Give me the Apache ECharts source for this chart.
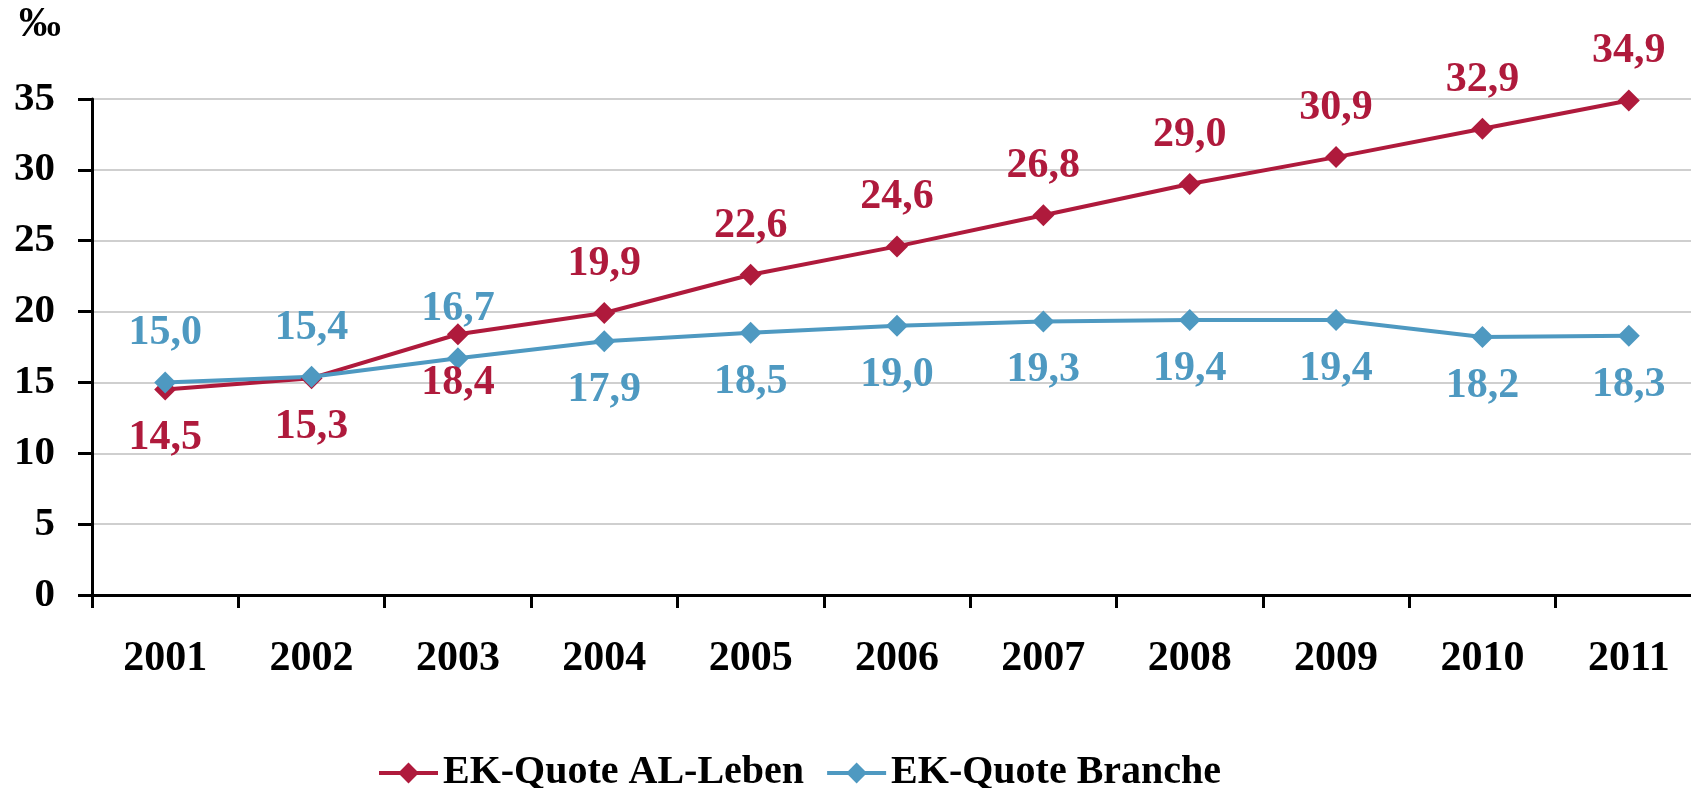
<html>
    <head>
        <meta charset="utf-8">
        <script src="https://cdn.jsdelivr.net/npm/echarts@6/dist/echarts.min.js"></script>
        <style>
            html, body { margin: 0; padding: 0; background: #fff; overflow: hidden; }
            /* the plot runs past the right edge of the picture, so the canvas is a bit wider than the window */
            #main { width: 1702px; height: 788px; }
        </style>
    </head>
    <body>
        <div id="main"></div>
        <script>

        var years = ['2001', '2002', '2003', '2004', '2005', '2006', '2007', '2008', '2009', '2010', '2011'];
        var alLeben = [14.5, 15.3, 18.4, 19.9, 22.6, 24.6, 26.8, 29.0, 30.9, 32.9, 34.9];
        var branche = [15.0, 15.4, 16.7, 17.9, 18.5, 19.0, 19.3, 19.4, 19.4, 18.2, 18.3];
        var yTicks = [0, 5, 10, 15, 20, 25, 30, 35];

        // which side the value label sits on, per year
        var alLebenSide = ['bottom', 'bottom', 'bottom', 'top', 'top', 'top', 'top', 'top', 'top', 'top', 'top'];
        var brancheSide = ['top', 'top', 'top', 'bottom', 'bottom', 'bottom', 'bottom', 'bottom', 'bottom', 'bottom', 'bottom'];

        var FONT = '"Times New Roman", "Liberation Serif", serif';
        var RED = '#AF1A3C';
        var BLUE = '#4E99C1';

        function fmt(v) {
            return v.toFixed(1).replace('.', ',');
        }

        function withLabels(values, sides, color) {
            return values.map(function (v, i) {
                return {
                    value: v,
                    label: {
                        show: true,
                        position: sides[i],
                        distance: 17,
                        color: color,
                        fontFamily: FONT,
                        fontWeight: 'bold',
                        fontSize: 42,
                        lineHeight: 42,
                        formatter: function (p) { return fmt(p.value); }
                    }
                };
            });
        }

        var myChart = echarts.init(document.getElementById('main'));

        myChart.setOption({
            backgroundColor: '#fff',
            animation: false,
            textStyle: {fontFamily: FONT},
            grid: {
                left: 92,
                right: 0,
                top: 99,
                bottom: 193,
                containLabel: false
            },
            legend: {
                left: 372,
                top: 748,
                itemWidth: 59,
                itemHeight: 26,
                itemGap: 21,
                lineStyle: {width: 4},
                textStyle: {
                    color: '#000',
                    fontFamily: FONT,
                    fontWeight: 'bold',
                    fontSize: 40,
                    lineHeight: 40
                },
                data: ['EK-Quote AL-Leben', 'EK-Quote Branche']
            },
            xAxis: {
                type: 'category',
                data: years,
                boundaryGap: true,
                axisLine: {lineStyle: {color: '#000', width: 3}},
                axisTick: {show: true, length: 13, lineStyle: {color: '#000', width: 3}},
                axisLabel: {
                    margin: 43,
                    color: '#000',
                    fontFamily: FONT,
                    fontWeight: 'bold',
                    fontSize: 42
                },
                splitLine: {show: false}
            },
            yAxis: {
                type: 'value',
                min: yTicks[0],
                max: yTicks[yTicks.length - 1],
                interval: 5,
                name: '‰',
                nameLocation: 'end',
                nameGap: 53,
                nameTextStyle: {
                    color: '#000',
                    fontFamily: FONT,
                    fontWeight: 'bold',
                    fontSize: 42,
                    align: 'center',
                    padding: [0, 104, 0, 0]
                },
                axisLine: {show: true, lineStyle: {color: '#000', width: 3}},
                axisTick: {show: true, length: 14, lineStyle: {color: '#000', width: 3}},
                axisLabel: {
                    margin: 37,
                    color: '#000',
                    fontFamily: FONT,
                    fontWeight: 'bold',
                    fontSize: 41
                },
                splitLine: {show: true, lineStyle: {color: '#BFBFBF', width: 1.5}}
            },
            series: [
                {
                    name: 'EK-Quote AL-Leben',
                    type: 'line',
                    data: withLabels(alLeben, alLebenSide, RED),
                    symbol: 'diamond',
                    symbolSize: 22,
                    color: RED,
                    lineStyle: {color: RED, width: 4},
                    itemStyle: {color: RED}
                },
                {
                    name: 'EK-Quote Branche',
                    type: 'line',
                    data: withLabels(branche, brancheSide, BLUE),
                    symbol: 'diamond',
                    symbolSize: 22,
                    color: BLUE,
                    lineStyle: {color: BLUE, width: 4},
                    itemStyle: {color: BLUE}
                }
            ]
        });

        </script>
    </body>
</html>
